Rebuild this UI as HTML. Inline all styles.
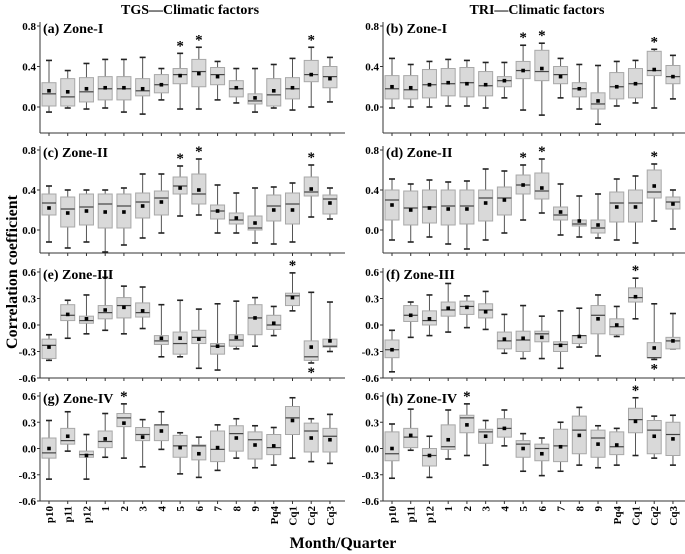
<!DOCTYPE html>
<html><head><meta charset="utf-8">
<style>
html,body{margin:0;padding:0;background:#fff;}
svg{display:block;font-family:"Liberation Serif",serif;font-weight:bold;}
</style></head>
<body>
<svg id="chart" width="685" height="554" viewBox="0 0 685 554" xmlns="http://www.w3.org/2000/svg">
<text x="190" y="14" font-size="14" text-anchor="middle">TGS—Climatic factors</text>
<text x="537" y="14" font-size="14" text-anchor="middle">TRI—Climatic factors</text>
<text transform="translate(17,272) rotate(-90)" font-size="16" text-anchor="middle">Correlation coefficient</text>
<text x="343" y="548" font-size="16" text-anchor="middle">Month/Quarter</text>
</svg>
<script>
const categories = ["p10","p11","p12","1","2","3","4","5","6","7","8","9","Pq4","Cq1","Cq2","Cq3"];
const ticksUpper = [0.0, 0.4, 0.8];
const ticksLower = [0.6, 0.3, 0.0, -0.3, -0.6];
const tickLabelsUpper = ["0.0","0.4","0.8"];
const tickLabelsLower = ["0.6","0.3","0.0","-0.3","-0.6"];

const aStats = [[-0.05,0.01,0.13,0.24,0.46],[-0.01,0.01,0.10,0.28,0.36],[-0.02,0.05,0.15,0.29,0.43],[-0.01,0.07,0.18,0.30,0.47],[-0.05,0.07,0.18,0.30,0.47],[-0.07,0.11,0.16,0.28,0.49],[0.07,0.14,0.22,0.32,0.38],[-0.02,0.23,0.32,0.38,0.53],[-0.02,0.20,0.35,0.47,0.59],[0.07,0.22,0.32,0.39,0.45],[0.04,0.10,0.18,0.26,0.38],[-0.05,0.03,0.06,0.13,0.38],[-0.01,0.01,0.12,0.28,0.42],[-0.03,0.08,0.18,0.29,0.48],[0.00,0.25,0.32,0.46,0.59],[0.05,0.19,0.30,0.40,0.49]];
const aMeans = [0.16,0.15,0.18,0.19,0.19,0.18,0.22,0.31,0.33,0.30,0.19,0.09,0.16,0.19,0.32,0.28];
const aStars = [[7,1],[8,1],[14,1]];

const bStats = [[-0.01,0.08,0.18,0.31,0.48],[0.00,0.08,0.17,0.31,0.42],[0.00,0.09,0.22,0.37,0.45],[0.01,0.11,0.23,0.38,0.47],[0.01,0.10,0.24,0.39,0.46],[-0.01,0.11,0.21,0.35,0.44],[0.09,0.20,0.26,0.30,0.44],[-0.03,0.28,0.36,0.45,0.61],[-0.08,0.26,0.35,0.56,0.63],[0.09,0.23,0.32,0.40,0.48],[-0.02,0.10,0.18,0.24,0.42],[-0.17,-0.02,0.03,0.14,0.41],[0.01,0.08,0.20,0.34,0.45],[0.04,0.09,0.23,0.38,0.46],[-0.01,0.31,0.36,0.55,0.57],[0.08,0.23,0.30,0.41,0.51]];
const bMeans = [0.20,0.19,0.22,0.24,0.23,0.22,0.26,0.36,0.38,0.30,0.18,0.06,0.20,0.23,0.37,0.30];
const bStars = [[7,1],[8,1],[14,1]];

const cStats = [[-0.12,0.15,0.27,0.36,0.44],[-0.18,0.03,0.21,0.33,0.40],[-0.12,0.05,0.23,0.36,0.40],[-0.22,0.02,0.26,0.36,0.40],[-0.15,0.02,0.24,0.36,0.42],[-0.08,0.12,0.28,0.37,0.56],[-0.03,0.15,0.32,0.39,0.56],[0.14,0.36,0.44,0.53,0.64],[0.15,0.26,0.36,0.56,0.71],[-0.03,0.11,0.19,0.25,0.45],[-0.03,0.06,0.10,0.17,0.37],[-0.13,0.00,0.02,0.14,0.42],[-0.14,0.09,0.24,0.35,0.43],[-0.12,0.06,0.26,0.37,0.47],[0.13,0.34,0.38,0.53,0.65],[0.11,0.16,0.31,0.35,0.42]];
const cMeans = [0.22,0.17,0.19,0.18,0.18,0.24,0.28,0.42,0.40,0.19,0.12,0.07,0.20,0.20,0.41,0.27];
const cStars = [[7,1],[8,1],[14,1]];

const dStats = [[-0.10,0.10,0.30,0.40,0.51],[-0.12,0.05,0.22,0.39,0.46],[-0.07,0.07,0.23,0.40,0.50],[-0.14,0.05,0.24,0.40,0.48],[-0.19,0.06,0.24,0.40,0.49],[-0.10,0.09,0.32,0.40,0.61],[-0.03,0.15,0.32,0.43,0.59],[0.10,0.36,0.45,0.55,0.65],[0.17,0.31,0.39,0.57,0.71],[-0.05,0.10,0.15,0.23,0.46],[-0.07,0.04,0.06,0.10,0.34],[-0.08,-0.03,0.02,0.10,0.36],[-0.10,0.08,0.27,0.38,0.51],[-0.13,0.08,0.27,0.40,0.54],[0.09,0.32,0.38,0.60,0.66],[0.01,0.21,0.28,0.33,0.40]];
const dMeans = [0.25,0.20,0.22,0.21,0.21,0.27,0.30,0.45,0.42,0.18,0.09,0.05,0.23,0.23,0.44,0.26];
const dStars = [[7,1],[8,1],[14,1]];

const eStats = [[-0.40,-0.38,-0.23,-0.16,-0.11],[-0.15,0.05,0.11,0.23,0.28],[-0.10,0.02,0.05,0.10,0.34],[-0.06,0.07,0.14,0.22,0.54],[-0.10,0.08,0.22,0.31,0.44],[-0.04,0.09,0.14,0.25,0.43],[-0.36,-0.22,-0.18,-0.12,0.23],[-0.36,-0.33,-0.21,-0.08,0.28],[-0.49,-0.21,-0.14,-0.06,0.18],[-0.51,-0.33,-0.24,-0.21,0.24],[-0.27,-0.24,-0.17,-0.11,0.27],[-0.24,-0.11,0.08,0.23,0.31],[-0.12,-0.05,0.00,0.11,0.21],[0.16,0.22,0.33,0.36,0.59],[-0.43,-0.40,-0.36,-0.18,0.37],[-0.30,-0.25,-0.24,-0.16,0.26]];
const eMeans = [-0.25,0.12,0.07,0.17,0.20,0.16,-0.15,-0.15,-0.16,-0.24,-0.14,0.08,0.02,0.31,-0.25,-0.18];
const eStars = [[13,1],[14,-1]];

const fStats = [[-0.53,-0.37,-0.28,-0.17,-0.06],[-0.14,0.04,0.11,0.22,0.26],[-0.12,0.00,0.05,0.16,0.34],[-0.08,0.10,0.17,0.26,0.47],[-0.03,0.12,0.21,0.27,0.33],[-0.05,0.08,0.17,0.24,0.38],[-0.32,-0.27,-0.18,-0.08,0.12],[-0.38,-0.30,-0.17,-0.07,0.22],[-0.38,-0.19,-0.10,-0.07,0.10],[-0.49,-0.30,-0.22,-0.19,0.16],[-0.25,-0.21,-0.12,-0.12,0.19],[-0.35,-0.10,0.11,0.22,0.34],[-0.13,-0.11,-0.02,0.07,0.21],[0.07,0.26,0.31,0.42,0.53],[-0.39,-0.37,-0.37,-0.20,0.24],[-0.27,-0.27,-0.18,-0.14,0.13]];
const fMeans = [-0.28,0.11,0.07,0.19,0.20,0.15,-0.16,-0.15,-0.14,-0.23,-0.13,0.07,0.00,0.32,-0.26,-0.18];
const fStars = [[13,1],[14,-1]];

const gStats = [[-0.35,-0.11,-0.05,0.12,0.32],[-0.03,0.05,0.09,0.23,0.42],[-0.35,-0.10,-0.07,-0.03,0.16],[-0.10,0.01,0.08,0.20,0.40],[-0.11,0.25,0.35,0.40,0.51],[-0.21,0.09,0.16,0.24,0.33],[-0.01,0.09,0.27,0.27,0.42],[-0.29,-0.10,0.03,0.15,0.18],[-0.33,-0.13,0.03,0.04,0.13],[-0.25,-0.15,-0.01,0.20,0.27],[-0.11,-0.03,0.17,0.26,0.34],[-0.22,-0.12,0.10,0.19,0.26],[-0.19,-0.07,0.01,0.16,0.24],[-0.11,0.16,0.35,0.48,0.58],[-0.15,-0.04,0.20,0.29,0.34],[-0.17,-0.04,0.14,0.23,0.39]];
const gMeans = [0.00,0.14,-0.08,0.11,0.29,0.13,0.20,0.01,-0.06,0.01,0.12,0.04,0.03,0.32,0.12,0.10];
const gStars = [[4,1]];

const hStats = [[-0.34,-0.14,-0.06,0.19,0.28],[-0.02,0.01,0.13,0.23,0.45],[-0.33,-0.20,-0.08,0.00,0.14],[-0.12,-0.01,0.02,0.27,0.44],[-0.08,0.18,0.35,0.38,0.51],[-0.19,0.06,0.19,0.22,0.32],[0.03,0.13,0.23,0.34,0.44],[-0.26,-0.10,0.05,0.09,0.17],[-0.31,-0.14,0.00,0.05,0.12],[-0.26,-0.15,0.03,0.22,0.30],[-0.19,-0.06,0.21,0.37,0.47],[-0.22,-0.10,0.12,0.21,0.26],[-0.19,-0.07,0.02,0.19,0.23],[-0.08,0.18,0.33,0.46,0.58],[-0.11,-0.06,0.21,0.32,0.37],[-0.19,-0.08,0.16,0.30,0.38]];
const hMeans = [0.00,0.15,-0.08,0.10,0.27,0.14,0.23,0.00,-0.06,0.02,0.15,0.05,0.04,0.31,0.14,0.11];
const hStars = [[4,1],[13,1]];

const NS = "http://www.w3.org/2000/svg";
const svg = document.getElementById("chart");
function mk(tag, attrs, parent){
  const e = document.createElementNS(NS, tag);
  for (const k in attrs) e.setAttribute(k, attrs[k]);
  (parent||svg).appendChild(e);
  return e;
}

// panel geometry: axisX, right end, value v0 at y0, value v1 at y1, axis top, axis bottom
const rowsGeo = [
  {v0:0.8,y0:26,v1:0,y1:107,top:22,bottom:133,upper:true},
  {v0:0.8,y0:150,v1:0,y1:230,top:146,bottom:253,upper:true},
  {v0:0.6,y0:272,v1:-0.6,y1:378,top:268,bottom:378,upper:false},
  {v0:0.6,y0:396,v1:-0.6,y1:501,top:392,bottom:501,upper:false}
];
const colsGeo = [{ax:40,right:345},{ax:383,right:685}];
const panels = [
  {id:"a",label:"(a) Zone-I",stats:aStats,means:aMeans,stars:aStars,r:0,c:0},
  {id:"b",label:"(b) Zone-I",stats:bStats,means:bMeans,stars:bStars,r:0,c:1},
  {id:"c",label:"(c) Zone-II",stats:cStats,means:cMeans,stars:cStars,r:1,c:0},
  {id:"d",label:"(d) Zone-II",stats:dStats,means:dMeans,stars:dStars,r:1,c:1},
  {id:"e",label:"(e) Zone-III",stats:eStats,means:eMeans,stars:eStars,r:2,c:0},
  {id:"f",label:"(f) Zone-III",stats:fStats,means:fMeans,stars:fStars,r:2,c:1},
  {id:"g",label:"(g) Zone-IV",stats:gStats,means:gMeans,stars:gStars,r:3,c:0},
  {id:"h",label:"(h) Zone-IV",stats:hStats,means:hMeans,stars:hStars,r:3,c:1}
];

panels.forEach(p => {
  const R = rowsGeo[p.r], C = colsGeo[p.c];
  const yS = v => R.y1 + (v - R.v1) * (R.y0 - R.y1) / (R.v0 - R.v1);
  const xS = i => C.ax + 9 + i * 18.73;
  const g = mk("g", {});
  
  

  // axes
  const yAxis = mk("line", {x1:C.ax,y1:R.top,x2:C.ax,y2:R.bottom,stroke:"#333","stroke-width":1}, g);
  
  
  const xAxis = mk("line", {x1:C.ax,y1:R.bottom,x2:C.right,y2:R.bottom,stroke:"#333","stroke-width":1}, g);
  
  

  const tv = R.upper ? ticksUpper : ticksLower;
  const tl = R.upper ? tickLabelsUpper : tickLabelsLower;
  tv.forEach((v, k) => {
    const y = yS(v);
    mk("line", {x1:C.ax-3,y1:y,x2:C.ax,y2:y,stroke:"#333","stroke-width":1}, g);
    const t = mk("text", {x:C.ax-4,y:y+4,"font-size":11,"text-anchor":"end"}, g);
    t.textContent = tl[k];
    
    
  });
  categories.forEach((cat, i) => {
    const x = xS(i);
    mk("line", {x1:x,y1:R.bottom,x2:x,y2:R.bottom+3,stroke:"#333","stroke-width":1}, g);
    if (p.r === 3) {
      const t = mk("text", {transform:"translate("+(x+4)+","+(R.bottom+5)+") rotate(-90)","font-size":11,"text-anchor":"end"}, g);
      t.textContent = cat;
      
      
    }
  });

  // boxes
  p.stats.forEach((s, i) => {
    const x = xS(i), w = 14;
    const bg = mk("g", {}, g);
    
    
    mk("line", {x1:x,y1:yS(s[0]),x2:x,y2:yS(s[4]),stroke:"#555","stroke-width":1}, bg);
    mk("line", {x1:x-3,y1:yS(s[0]),x2:x+3,y2:yS(s[0]),stroke:"#222","stroke-width":1.6}, bg);
    mk("line", {x1:x-3,y1:yS(s[4]),x2:x+3,y2:yS(s[4]),stroke:"#222","stroke-width":1.6}, bg);
    mk("rect", {x:x-w/2,y:yS(s[3]),width:w,height:Math.max(0.5,yS(s[1])-yS(s[3])),fill:"#d9d9d9",stroke:"#a8a8a8","stroke-width":1}, bg);
    mk("line", {x1:x-w/2,y1:yS(s[2]),x2:x+w/2,y2:yS(s[2]),stroke:"#444","stroke-width":1.2}, bg);
    const m = yS(p.means[i]);
    mk("rect", {x:x-1.8,y:m-1.8,width:3.6,height:3.6,fill:"#000"}, bg);
  });

  p.stars.forEach(st => {
    const i = st[0], s = p.stats[i];
    const y = st[1] > 0 ? yS(s[4]) - 3 : yS(s[0]) + 14;
    const t = mk("text", {x:xS(i),y:y,"font-size":15,"text-anchor":"middle"}, g);
    t.textContent = "*";
    
    
  });

  const lab = mk("text", {x:C.ax+3,y:R.top+11,"font-size":14}, g);
  lab.textContent = p.label;
  
  
});
</script>
</body></html>
